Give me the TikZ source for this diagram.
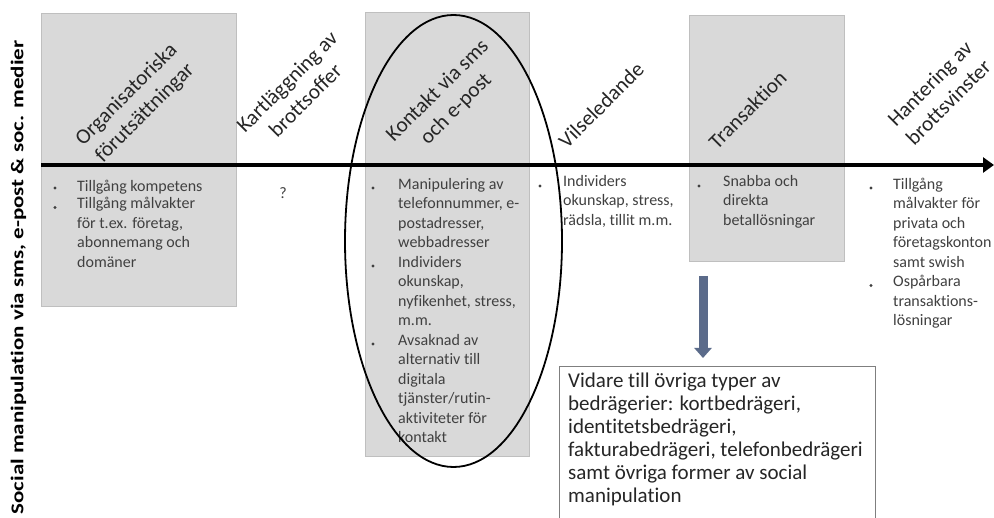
\documentclass[tikz,border=0pt]{standalone}
\usepackage{fontspec}
\setmainfont{Carlito}[Ligatures={NoCommon}]
\usetikzlibrary{shapes.geometric,arrows.meta,calc}

\definecolor{boxgray}{HTML}{D9D9D9}
\definecolor{boxline}{HTML}{BFBFBF}
\definecolor{txt}{HTML}{404040}
\definecolor{headtxt}{HTML}{262626}
\definecolor{arrowfill}{HTML}{5B6B8A}
\definecolor{vidareline}{HTML}{7F7F7F}

\begin{document}
\begin{tikzpicture}[x=1pt,y=-1pt,
  graybox/.style={draw=boxline, line width=0.8pt, fill=boxgray, inner sep=0pt, anchor=north west},
  phase/.style={rotate=45, align=center, font=\fontsize{21.3}{26}\selectfont, text=headtxt, inner sep=0pt},
  bultext/.style={anchor=north west, inner sep=0pt, align=left, font=\fontsize{16}{19.5}\selectfont, text=txt,
    execute at begin node={\rule{0pt}{14pt}}},
  buldot/.style={circle, fill=txt, inner sep=0pt, minimum size=3.2pt},
  axisline/.style={line width=4pt, -{Triangle[length=11pt,width=15pt]}},
  downarrow/.style={line width=9pt, draw=arrowfill, -{Triangle[length=10pt,width=17pt]}},
  oval/.style={draw=black, ellipse, line width=1.8pt, inner sep=0pt},
  infobox/.style={draw=vidareline, line width=1.2pt, fill=white, inner sep=0pt, anchor=north west},
  infotext/.style={anchor=north west, inner sep=0pt, align=left, font=\fontsize{21}{23}\selectfont, text=headtxt,
    execute at begin node={\rule{0pt}{19pt}}}
]
\useasboundingbox (0,0) rectangle (994,518);
\clip (0,0) rectangle (994,518);

% gray phase boxes
\node[graybox, minimum width=195pt, minimum height=293pt] (org) at (41,13) {};
\node[graybox, minimum width=164pt, minimum height=444pt] (kontakt) at (365,12) {};
\node[graybox, minimum width=155pt, minimum height=246pt] (trans) at (689,15) {};

% side label
\node[rotate=90, font=\fontsize{18}{20}\selectfont\bfseries, text=black, inner sep=0pt] (side) at (18.5,277.5)
  {\resizebox{474pt}{\height}{Social manipulation via sms, e-post \& soc. medier}};

% phase titles
\node[phase] (t1) at (136,104) {Organisatoriska\\förutsättningar};
\node[phase] (t2) at (296,91) {Kartläggning av\\brottsoffer};
\node[phase] (t3) at (447,100) {Kontakt via sms\\och e-post};
\node[phase] (t4) at (601,105) {Vilseledande};
\node[phase] (t5) at (747.5,109.5) {Transaktion};
\node[phase] (t6) at (939,93) {Hantering av\\brottsvinster};

% axis
\coordinate (axstart) at (41,165);
\coordinate (axend) at (994,165);
\draw[axisline] (axstart) -- (axend);

% bullets: Organisatoriska
\node[buldot] (d1a) at (55,188) {};
\node[bultext] (b1a) at (77,177.7) {Tillgång kompetens};
\node[buldot] (d1b) at (55,207.5) {};
\node[bultext] (b1b) at (77,197.2) {Tillgång målvakter\\för t.ex. företag,\\abonnemang och\\domäner};

% Kartläggning
\node[font=\fontsize{16}{19.5}\selectfont, text=txt, inner sep=0pt] (q) at (283,193) {?};

% Kontakt
\node[buldot] (d3a) at (373,188) {};
\node[bultext] (b3a) at (398,177.7) {Manipulering av\\telefonnummer, e-\\postadresser,\\webbadresser};
\node[buldot] (d3b) at (373,266) {};
\node[bultext] (b3b) at (398,255.7) {Individers\\okunskap,\\nyfikenhet, stress,\\m.m.};
\node[buldot] (d3c) at (373,344) {};
\node[bultext] (b3c) at (398,333.7) {Avsaknad av\\alternativ till\\digitala\\tjänster/rutin-\\aktiviteter för\\kontakt};

% Vilseledande
\node[buldot] (d4a) at (540,186) {};
\node[bultext] (b4a) at (563,174.7) {Individers\\okunskap, stress,\\rädsla, tillit m.m.};

% Transaktion
\node[buldot] (d5a) at (699,186) {};
\node[bultext] (b5a) at (723,174.7) {Snabba och\\direkta\\betallösningar};

% Hantering
\node[buldot] (d6a) at (871,188) {};
\node[bultext] (b6a) at (893,177.7) {Tillgång\\målvakter för\\privata och\\företagskonton\\samt swish};
\node[buldot] (d6b) at (871,285.5) {};
\node[bultext] (b6b) at (893,275.2) {Ospårbara\\transaktions-\\lösningar};

% bottom info box
\node[infobox, minimum width=316pt, minimum height=170pt] (vidare) at (559,366) {};
\node[infotext] (vidaretext) at (568,373) {Vidare till övriga typer av\\bedrägerier: kortbedrägeri,\\identitetsbedrägeri,\\fakturabedrägeri, telefonbedrägeri\\samt övriga former av social\\manipulation};

% arrow from Transaktion to info box
\coordinate (arrx) at (703,0);
\draw[downarrow] ([yshift=-14pt]trans.south -| arrx) -- ([yshift=8pt]vidare.north -| arrx);

% ellipse around Kontakt
\node[oval, minimum width=217pt, minimum height=452pt] (ring) at (453.5,241) {};
\end{tikzpicture}
\end{document}
